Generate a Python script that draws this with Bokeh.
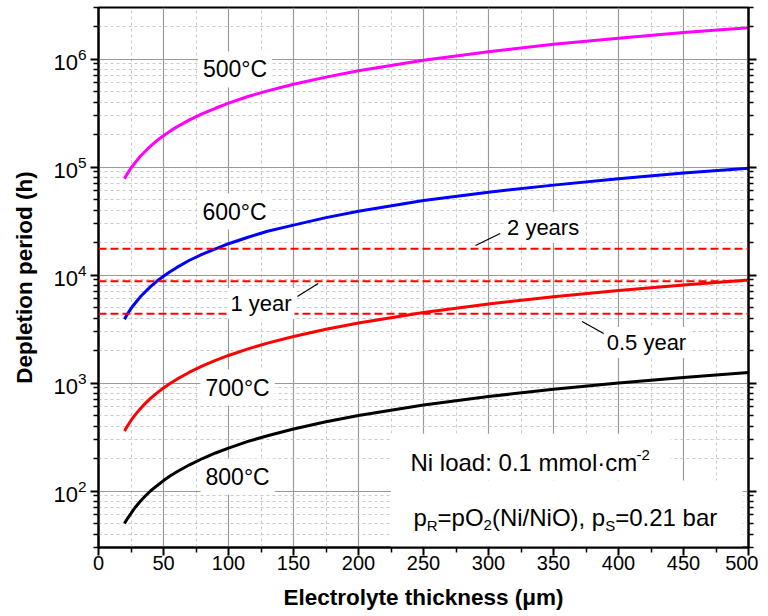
from bokeh.plotting import figure
from bokeh.models import FixedTicker, LogAxis, Label, Span, Range1d
from bokeh.embed import file_html
from bokeh.resources import INLINE

# ---------------- data ----------------
thickness_um = [20, 22, 25, 28, 32, 36, 40, 45, 50, 55, 60, 70, 80, 90, 100,
                115, 130, 150, 175, 200, 250, 300, 350, 400, 450, 500]
period_500C = [7.8e4, 8.6e4, 9.8e4, 1.09e5, 1.25e5, 1.4e5, 1.56e5, 1.76e5, 1.95e5,
               2.15e5, 2.34e5, 2.73e5, 3.12e5, 3.5e5, 3.9e5, 4.5e5, 5.07e5, 5.85e5,
               6.8e5, 7.8e5, 9.75e5, 1.17e6, 1.37e6, 1.56e6, 1.76e6, 1.95e6]
period_600C = [3.9e3, 4.3e3, 4.9e3, 5.45e3, 6.25e3, 7.0e3, 7.8e3, 8.8e3, 9.75e3,
               1.07e4, 1.17e4, 1.37e4, 1.56e4, 1.75e4, 1.95e4, 2.24e4, 2.54e4, 2.9e4,
               3.4e4, 3.9e4, 4.9e4, 5.85e4, 6.8e4, 7.8e4, 8.8e4, 9.75e4]
period_700C = [360, 396, 450, 504, 576, 648, 720, 810, 900, 990, 1080, 1260, 1440,
               1620, 1800, 2070, 2340, 2700, 3150, 3600, 4500, 5400, 6300, 7200,
               8100, 9000]
period_800C = [50, 55, 62, 70, 80, 90, 100, 112, 125, 138, 150, 175, 200, 225, 250,
               288, 325, 375, 438, 500, 625, 750, 875, 1000, 1125, 1250]
series_names = ["500°C", "600°C", "700°C", "800°C"]
series_values = [period_500C, period_600C, period_700C, period_800C]
series_colors = ["#ff00ff", "#0000ff", "#ff0000", "#000000"]

year_labels = ["2 years", "1 year", "0.5 year"]
year_hours = [17520, 8760, 4380]

x_ticks = [0, 50, 100, 150, 200, 250, 300, 350, 400, 450, 500]
x_minor = [25, 75, 125, 175, 225, 275, 325, 375, 425, 475]
y_ticks = [1e2, 1e3, 1e4, 1e5, 1e6]
y_minor = [m * d for d in [10, 100, 1e3, 1e4, 1e5, 1e6] for m in range(2, 10)
           if 30 <= m * d <= 3e6]

FONT = "Liberation Sans"

p = figure(frame_width=650, frame_height=540,
           x_range=Range1d(0, 500), y_range=Range1d(30, 3e6),
           y_axis_type="log", output_backend="svg", toolbar_location=None,
           min_border_left=98, min_border_top=7, min_border_bottom=64,
           min_border_right=10, background_fill_color="white",
           border_fill_color="white")

p.outline_line_color = "black"
p.outline_line_width = 2
p.outline_line_alpha = 1

p.xaxis.ticker = FixedTicker(ticks=x_ticks, minor_ticks=x_minor)
p.yaxis.ticker = FixedTicker(ticks=y_ticks, minor_ticks=y_minor)

for ax in (p.xaxis[0], p.yaxis[0]):
    ax.axis_line_width = 2
    ax.major_tick_line_width = 2
    ax.minor_tick_line_width = 1.5
    ax.major_tick_out = 8
    ax.major_tick_in = 0
    ax.minor_tick_out = 5
    ax.minor_tick_in = 0
    ax.major_label_text_font = FONT
    ax.major_label_text_font_size = "20px"
    ax.major_label_text_color = "black"
    ax.axis_label_text_font = FONT
    ax.axis_label_text_font_size = "22.5px"
    ax.axis_label_text_font_style = "bold"
    ax.axis_label_text_color = "black"

p.xaxis.axis_label = "Electrolyte thickness (μm)"
p.yaxis.axis_label = "Depletion period (h)"
p.xaxis.major_label_standoff = 0
p.xaxis.axis_label_standoff = 12
p.yaxis.major_label_standoff = 4
p.yaxis.major_label_text_font_size = "22px"
p.yaxis.axis_label_standoff = 13

right = LogAxis(ticker=FixedTicker(ticks=y_ticks, minor_ticks=y_minor),
                major_label_overrides={t: "" for t in y_ticks},
                axis_line_width=2, major_tick_line_width=2, minor_tick_line_width=1.5,
                major_tick_out=8, major_tick_in=0, minor_tick_out=5, minor_tick_in=0)
p.add_layout(right, "right")

for g in (p.xgrid[0], p.ygrid[0]):
    g.grid_line_color = "#9a9a9a"
    g.grid_line_width = 1.2
    g.minor_grid_line_color = "#c8c8c8"
    g.minor_grid_line_dash = "3 3"
    g.minor_grid_line_width = 1

# temperature labels: white boxes over the grid but under the curves
temp_pos = [(105, 8.0e5), (104.6, 3.87e4), (107, 908), (107, 136)]
for name, (lx, ly) in zip(series_names, temp_pos):
    p.add_layout(Label(x=lx, y=ly, text=name, text_align="center",
                       text_baseline="middle", text_font=FONT,
                       text_font_size="23px", text_color="black",
                       background_fill_color="white", padding=5,
                       level="underlay"))

# white box behind the annotation text (covers grid lines)
p.quad(left=[225, 225], right=[440, 495.4], bottom=[125, 30], top=[340, 125],
       fill_color="white", line_color=None)

for vals, col in zip(series_values, series_colors):
    p.line(thickness_um, vals, line_color=col, line_width=3)

for h in year_hours:
    p.add_layout(Span(location=h, dimension="width", line_color="#ff0000",
                      line_width=2, line_dash="8 4"))

# leader lines for the duration labels
p.segment(x0=[290, 153, 372], y0=[1.875e4, 6.32e3, 3.72e3],
          x1=[309, 169, 390], y1=[2.42e4, 8.34e3, 2.81e3],
          line_color="black", line_width=1.2)

year_pos = [(342, 2.76e4), (125, 5.44e3), (421.5, 2.37e3)]
for name, (lx, ly) in zip(year_labels, year_pos):
    p.add_layout(Label(x=lx, y=ly, text=name, text_align="center",
                       text_baseline="middle", text_font=FONT,
                       text_font_size="22px", text_color="black",
                       background_fill_color="white", padding=3))

# annotation text with super/subscripts
def piece(x, y, dx, txt, size):
    p.add_layout(Label(x=x, y=y, x_offset=dx, text=txt, text_align="left",
                       text_baseline="alphabetic", text_font=FONT,
                       text_font_size=size, text_color="black"))

piece(240, 184, 0, "Ni load: 0.1 mmol·cm", "24px")
piece(240, 217, 226, "-2", "15px")

bx, by, sy = 242.3, 56.9, 48.0
piece(bx, by, 0, "p", "24px")
piece(bx, sy, 13.3, "R", "15px")
piece(bx, by, 24.1, "=pO", "24px")
piece(bx, sy, 70.1, "2", "15px")
piece(bx, by, 78.4, "(Ni/NiO), p", "24px")
piece(bx, sy, 191.7, "S", "15px")
piece(bx, by, 201.7, "=0.21 bar", "24px")

open("out.html", "w").write(file_html(p, INLINE))
